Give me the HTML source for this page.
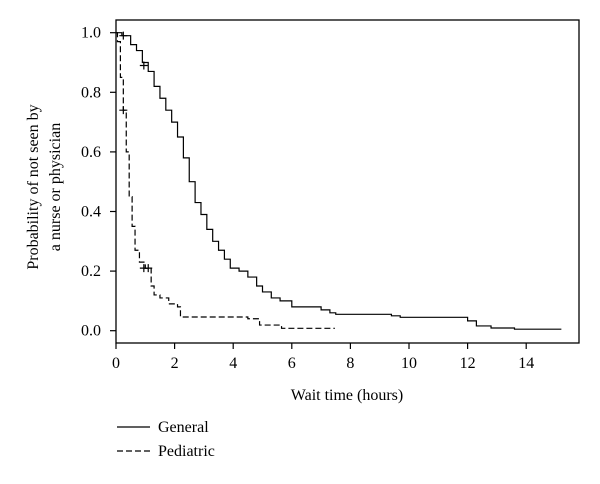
<!DOCTYPE html>
<html><head><meta charset="utf-8"><style>
html,body{margin:0;padding:0;background:#fff;}
svg{display:block;font-family:"Liberation Serif",serif;}
</style></head><body>
<svg id="chart" width="600" height="484" viewBox="0 0 600 484">
<rect x="116" y="20" width="463" height="323" fill="none" stroke="#000" stroke-width="1.3"/>
<g id="xticks"></g>
<g id="yticks"></g>
<g id="series"></g>
<text x="347" y="400" font-size="16" text-anchor="middle">Wait time (hours)</text>
<g transform="translate(38,187) rotate(-90)">
<text x="0" y="0" font-size="16" text-anchor="middle">Probability of not seen by</text>
<text x="0" y="22" font-size="16" text-anchor="middle">a nurse or physician</text>
</g>
<g>
<line x1="117" y1="427" x2="150" y2="427" stroke="#000" stroke-width="1.2"/>
<text x="158" y="432" font-size="16">General</text>
<line x1="117" y1="451" x2="150" y2="451" stroke="#000" stroke-width="1.2" stroke-dasharray="6,3"/>
<text x="158" y="456" font-size="16">Pediatric</text>
</g>
</svg>
<script>
const xTicks = [0,2,4,6,8,10,12,14];
const yTicks = [0.0,0.2,0.4,0.6,0.8,1.0];
const generalTimes = [0,0.2,0.5,0.7,0.9,1.1,1.3,1.5,1.7,1.9,2.1,2.3,2.5,2.7,2.9,3.1,3.3,3.5,3.7,3.9,4.2,4.5,4.8,5.0,5.3,5.6,6.0,7.0,7.3,7.5,9.4,9.7,12.0,12.3,12.8,13.6,15.2];
const generalSurv = [1.0,0.99,0.96,0.94,0.90,0.87,0.82,0.78,0.74,0.70,0.65,0.58,0.50,0.43,0.39,0.34,0.30,0.27,0.24,0.21,0.20,0.18,0.15,0.13,0.11,0.10,0.08,0.07,0.06,0.055,0.05,0.045,0.033,0.016,0.009,0.005,0.005];
const pediatricTimes = [0,0.05,0.15,0.25,0.35,0.45,0.55,0.65,0.8,1.0,1.2,1.3,1.5,1.8,2.1,2.2,4.5,4.9,5.65,7.47];
const pediatricSurv = [1.0,0.97,0.85,0.74,0.60,0.45,0.35,0.27,0.23,0.21,0.15,0.12,0.11,0.09,0.08,0.046,0.04,0.019,0.008,0.008];
const generalCensorT = [0.25,0.95];
const generalCensorS = [0.99,0.89];
const pediatricCensorT = [0.25,0.95,1.1];
const pediatricCensorS = [0.74,0.21,0.21];

const NS="http://www.w3.org/2000/svg";
const xs = t => 116 + t*29.3;
const ys = v => 330.7 - v*298;
function mk(tag, attrs, parent){const e=document.createElementNS(NS,tag);for(const k in attrs)e.setAttribute(k,attrs[k]);parent.appendChild(e);return e;}
const gx=document.getElementById('xticks'), gy=document.getElementById('yticks'), gs=document.getElementById('series');
xTicks.forEach(t=>{
  const l=mk('line',{x1:xs(t),x2:xs(t),y1:343,y2:349,stroke:'#000','stroke-width':1.2},gx);
  
  
  const tx=mk('text',{x:xs(t),y:368,'font-size':16,'text-anchor':'middle'},gx);
  tx.textContent=t;
  
  
});
yTicks.forEach(v=>{
  const l=mk('line',{x1:110,x2:116,y1:ys(v),y2:ys(v),stroke:'#000','stroke-width':1.2},gy);
  
  
  const tx=mk('text',{x:101,y:ys(v)+5,'font-size':16,'text-anchor':'end'},gy);
  tx.textContent=v.toFixed(1);
  
  
});
function stepPath(T,S){let d='M'+xs(T[0])+','+ys(S[0]);for(let i=1;i<T.length;i++){d+=' H'+xs(T[i])+' V'+ys(S[i]);}return d;}
const pg=mk('path',{d:stepPath(generalTimes,generalSurv),fill:'none',stroke:'#000','stroke-width':1.2},gs);


const pp=mk('path',{d:stepPath(pediatricTimes,pediatricSurv),fill:'none',stroke:'#000','stroke-width':1.2,'stroke-dasharray':'6,3'},gs);


function censor(T,S,name){T.forEach((t,i)=>{const x=xs(t),y=ys(S[i]);
  const p=mk('path',{d:`M${x-4},${y} H${x+4} M${x},${y-4} V${y+4}`,stroke:'#000','stroke-width':1.2},gs);
  
  });}
censor(generalCensorT,generalCensorS,'general-censor-mark');
censor(pediatricCensorT,pediatricCensorS,'pediatric-censor-mark');
</script>
</body></html>
